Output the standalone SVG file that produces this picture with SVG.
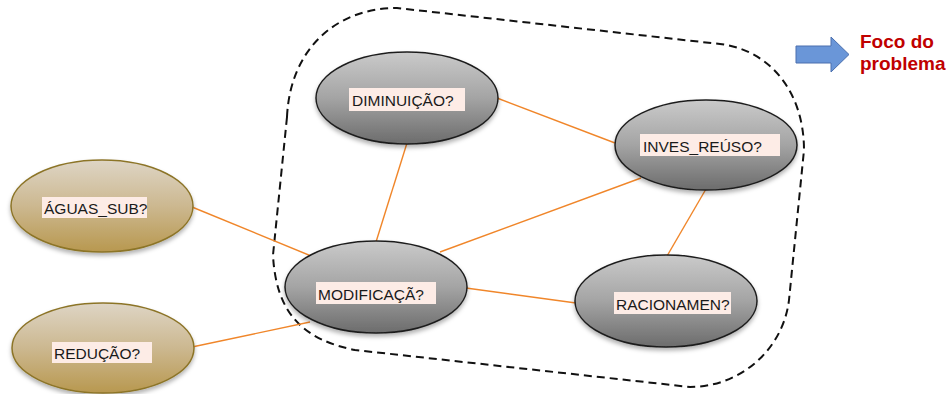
<svg xmlns="http://www.w3.org/2000/svg" width="950" height="394" viewBox="0 0 950 394">
  <defs>
    <linearGradient id="grayFill" x1="0" y1="0" x2="0" y2="1">
      <stop offset="0" stop-color="#cacaca"/>
      <stop offset="0.5" stop-color="#a4a4a4"/>
      <stop offset="1" stop-color="#6c6c6c"/>
    </linearGradient>
    <linearGradient id="tanFill" x1="0" y1="0" x2="0" y2="1">
      <stop offset="0" stop-color="#ded5c5"/>
      <stop offset="0.5" stop-color="#ccb890"/>
      <stop offset="1" stop-color="#b8984f"/>
    </linearGradient>
    <filter id="shadow" x="-10%" y="-10%" width="120%" height="130%">
      <feDropShadow dx="0" dy="3" stdDeviation="2" flood-color="#000" flood-opacity="0.3"/>
    </filter>
  </defs>
  <style>
    .edge { stroke: #f0862a; stroke-width: 1.4; fill: none; }
    .gray { fill: url(#grayFill); stroke: #1e1e1e; stroke-width: 1.5; filter: url(#shadow); }
    .tan { fill: url(#tanFill); stroke: #8c7428; stroke-width: 1.5; filter: url(#shadow); }
    .tag { fill: #fdece6; }
    .label { font-family: "Liberation Sans", Arial, sans-serif; font-size: 15.5px; fill: #1a1a1a; }
    .focus { font-family: "Liberation Sans", Arial, sans-serif; font-size: 19px; font-weight: bold; fill: #c00000; }
  </style>

  <rect width="950" height="394" fill="#ffffff"/>

  <!-- problem-focus boundary -->
  <path id="boundary" d="M 287,117 C 290,50 335,8 397,8 L 720,44 C 770,50 804,92 804,150 L 789,300 C 783,350 740,387 690,387 L 355,350 C 305,340 276,315 273,255 Z" fill="none" stroke="#111" stroke-width="2" stroke-dasharray="8,5"/>

  <!-- legend arrow and caption -->
  <g id="legend">
    <path d="M 796,46 L 831,46 L 831,37 L 849,54.5 L 831,72 L 831,63 L 796,63 Z" fill="#6a96d8" stroke="#4a6fae" stroke-width="1"/>
    <text class="focus" x="860" y="48">Foco do</text>
    <text class="focus" x="860" y="70">problema</text>
  </g>

  <g id="connectors">
    <line class="edge" x1="192" y1="207" x2="311" y2="256"/>
    <line class="edge" x1="192" y1="347" x2="310" y2="322"/>
    <line class="edge" x1="376" y1="242" x2="407" y2="143"/>
    <line class="edge" x1="440" y1="252" x2="641" y2="178"/>
    <line class="edge" x1="466" y1="288" x2="576" y2="303"/>
    <line class="edge" x1="497" y1="98" x2="615" y2="143"/>
    <line class="edge" x1="706" y1="189" x2="667" y2="256"/>
  </g>

  <g id="diminuicao">
    <ellipse class="gray" cx="407" cy="98" rx="91" ry="46"/>
    <rect class="tag" x="349" y="88" width="116" height="23"/>
    <text class="label" x="352" y="106">DIMINUIÇÃO?</text>
  </g>

  <g id="inves_reuso">
    <ellipse class="gray" cx="706" cy="145" rx="91" ry="45"/>
    <rect class="tag" x="640" y="134" width="140" height="22"/>
    <text class="label" x="643" y="152">INVES_REÚSO?</text>
  </g>

  <g id="modificacao">
    <ellipse class="gray" cx="376" cy="287" rx="91" ry="46"/>
    <rect class="tag" x="316" y="282" width="120" height="22"/>
    <text class="label" x="318" y="300">MODIFICAÇÃ?</text>
  </g>

  <g id="racionamento">
    <ellipse class="gray" cx="666" cy="301" rx="91" ry="46"/>
    <rect class="tag" x="614" y="292" width="117" height="22"/>
    <text class="label" x="616" y="310">RACIONAMEN?</text>
  </g>

  <g id="aguas_sub">
    <ellipse class="tan" cx="102" cy="206" rx="91" ry="46"/>
    <rect class="tag" x="42" y="197" width="105" height="21"/>
    <text class="label" x="44" y="214">ÁGUAS_SUB?</text>
  </g>

  <g id="reducao">
    <ellipse class="tan" cx="103" cy="348" rx="91" ry="45"/>
    <rect class="tag" x="52" y="342" width="100" height="21"/>
    <text class="label" x="54" y="359">REDUÇÃO?</text>
  </g>
</svg>
